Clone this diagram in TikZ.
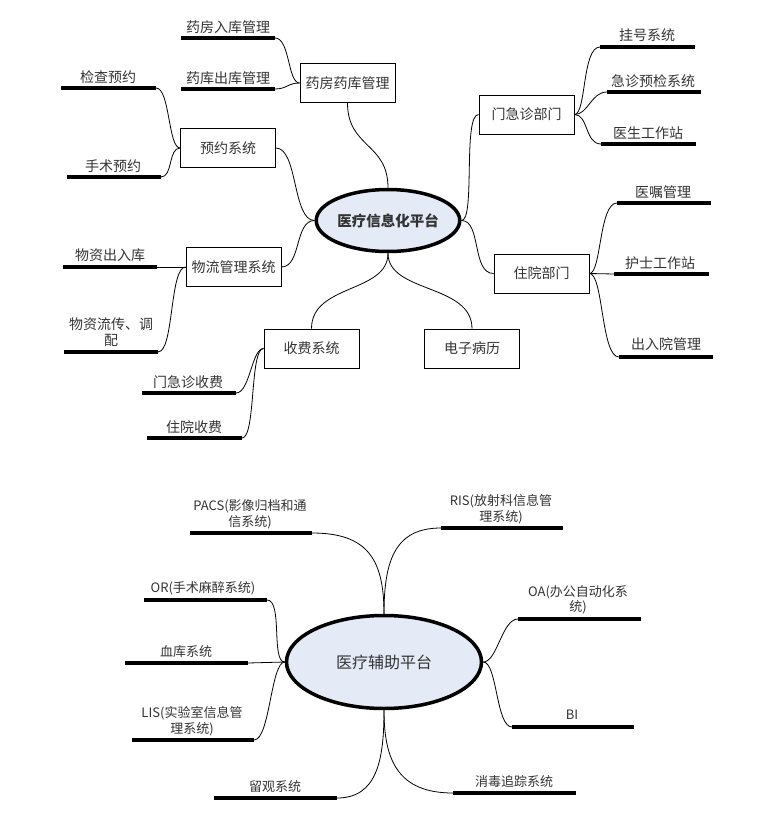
\documentclass[tikz,border=0pt]{standalone}
\usepackage{fontspec}
\setmainfont{Noto Sans CJK SC}
\usetikzlibrary{shapes.geometric}
\definecolor{txt}{HTML}{333333}
\definecolor{hubfill}{HTML}{E4EBF7}
\begin{document}
\begin{tikzpicture}[x=1pt,y=-1pt,
  box/.style={draw=black,line width=0.8pt,rectangle,minimum width=95pt,minimum height=39pt,inner sep=0pt,text=txt,font=\fontsize{14}{16}\selectfont},
  hub/.style={draw=black,line width=3.5pt,ellipse,fill=hubfill,inner sep=0pt,text=txt},
  leafline/.style={line width=4pt},
  leaftxt/.style={text=txt,font=\fontsize{14}{16}\selectfont,inner sep=0pt,align=center},
  leaftxtb/.style={text=txt,font=\fontsize{13}{15.5}\selectfont,inner sep=0pt,align=center},
  conn/.style={line width=0.8pt}]
\useasboundingbox (0,0) rectangle (783,832);

% ===== top hub =====
\node[hub,minimum width=133pt,minimum height=62pt,font=\bfseries\fontsize{14.5}{16}\selectfont] (E1) at (388,220.5) {医疗信息化平台};

\node[box] (yf) at (347.5,83) {药房药库管理};
\node[box] (yy) at (228,148) {预约系统};
\node[box] (wl) at (233.5,267) {物流管理系统};
\node[box] (sf) at (311.5,348.5) {收费系统};
\node[box] (dz) at (472,348.5) {电子病历};
\node[box] (zy) at (541.5,273.5) {住院部门};
\node[box] (mj) at (526.5,114.5) {门急诊部门};

% leaves (top)
\coordinate (a1l) at (181,38);  \coordinate (a1r) at (275,38);
\coordinate (a2l) at (181,89);  \coordinate (a2r) at (275,89);
\coordinate (b1l) at (61,88);   \coordinate (b1r) at (156,88);
\coordinate (b2l) at (67,177);  \coordinate (b2r) at (161,177);
\coordinate (c1l) at (63,267);  \coordinate (c1r) at (157,267);
\coordinate (c2l) at (64,352);  \coordinate (c2r) at (158,352);
\coordinate (d1l) at (142,393); \coordinate (d1r) at (236,393);
\coordinate (d2l) at (147,438); \coordinate (d2r) at (242,438);
\coordinate (e1l) at (600,47);  \coordinate (e1r) at (695,47);
\coordinate (e2l) at (607,92);  \coordinate (e2r) at (701,92);
\coordinate (e3l) at (601,144); \coordinate (e3r) at (696,144);
\coordinate (f1l) at (617,203); \coordinate (f1r) at (711,203);
\coordinate (f2l) at (614,274); \coordinate (f2r) at (709,274);
\coordinate (f3l) at (619,357); \coordinate (f3r) at (713,357);

\foreach \p in {a1,a2,b1,b2,c1,c2,d1,d2,e1,e2,e3,f1,f2,f3}
  \draw[leafline] (\p l) -- (\p r);

\node[leaftxt] (ta1) at (228,27) {药房入库管理};
\node[leaftxt] (ta2) at (228,78) {药库出库管理};
\node[leaftxt] (tb1) at (108,77) {检查预约};
\node[leaftxt] (tb2) at (113,166) {手术预约};
\node[leaftxt] (tc1) at (110,255) {物资出入库};
\node[leaftxt] (tc2) at (111,332) {物资流传、调\\配};
\node[leaftxt] (td1) at (188,382) {门急诊收费};
\node[leaftxt] (td2) at (194,427) {住院收费};
\node[leaftxt] (te1) at (647,35) {挂号系统};
\node[leaftxt] (te2) at (653,81) {急诊预检系统};
\node[leaftxt] (te3) at (648,133) {医生工作站};
\node[leaftxt] (tf1) at (663,192) {医嘱管理};
\node[leaftxt] (tf2) at (660,263) {护士工作站};
\node[leaftxt] (tf3) at (666,344) {出入院管理};

% connectors (top)
\draw[conn] (a1r) .. controls +(15,0) and +(-12,0) .. (yf.west);
\draw[conn] (a2r) .. controls +(12,0) and +(-12,0) .. (yf.west);
\draw[conn] (yf.south) .. controls +(0,45) and +(0,-45) .. (E1.north);
\draw[conn] (b1r) .. controls +(14,0) and +(-12,0) .. (yy.west);
\draw[conn] (b2r) .. controls +(12,0) and +(-12,0) .. (yy.west);
\draw[conn] (yy.east) .. controls +(22,0) and +(-22,0) .. (E1.west);
\draw[conn] (c1r) -- (wl.west);
\draw[conn] (c2r) .. controls +(16,0) and +(-16,0) .. (wl.west);
\draw[conn] (wl.east) .. controls +(20,0) and +(-20,0) .. (E1.west);
\draw[conn] (d1r) .. controls +(14,0) and +(-12,0) .. (sf.west);
\draw[conn] (d2r) .. controls +(14,0) and +(-14,0) .. (sf.west);
\draw[conn] (sf.north) .. controls +(0,-45) and +(0,40) .. (E1.south);
\draw[conn] (dz.north) .. controls +(0,-45) and +(0,40) .. (E1.south);
\draw[conn] (mj.west) .. controls +(-16,0) and +(14,0) .. (E1.east);
\draw[conn] (zy.west) .. controls +(-22,0) and +(20,0) .. (E1.east);
\draw[conn] (e1l) .. controls +(-18,0) and +(12,0) .. (mj.east);
\draw[conn] (e2l) .. controls +(-16,0) and +(14,0) .. (mj.east);
\draw[conn] (e3l) .. controls +(-16,0) and +(14,0) .. (mj.east);
\draw[conn] (f1l) .. controls +(-18,0) and +(12,0) .. (zy.east);
\draw[conn] (f2l) -- (zy.east);
\draw[conn] (f3l) .. controls +(-18,0) and +(14,0) .. (zy.east);

% ===== bottom hub =====
\node[hub,minimum width=195pt,minimum height=93pt,font=\fontsize{16}{18}\selectfont] (E2) at (384,662) {医疗辅助平台};

\coordinate (g1l) at (190,533); \coordinate (g1r) at (312,533);
\coordinate (g2l) at (144,600); \coordinate (g2r) at (267,600);
\coordinate (g3l) at (125,663); \coordinate (g3r) at (248,663);
\coordinate (g4l) at (132,740); \coordinate (g4r) at (254,740);
\coordinate (g5l) at (214,798); \coordinate (g5r) at (337,798);
\coordinate (h1l) at (441,528); \coordinate (h1r) at (563,528);
\coordinate (h2l) at (518,619); \coordinate (h2r) at (641,619);
\coordinate (h3l) at (512,727); \coordinate (h3r) at (634,727);
\coordinate (h4l) at (453,793); \coordinate (h4r) at (576,793);

\foreach \p in {g1,g2,g3,g4,g5,h1,h2,h3,h4}
  \draw[leafline] (\p l) -- (\p r);

\node[leaftxtb] (tg1) at (250,514.5) {PACS(影像归档和通\\信系统)};
\node[leaftxtb] (tg2) at (203,588) {OR(手术麻醉系统)};
\node[leaftxtb] (tg3) at (186,652) {血库系统};
\node[leaftxtb] (tg4) at (192,721) {LIS(实验室信息管\\理系统)};
\node[leaftxtb] (tg5) at (275,787) {留观系统};
\node[leaftxtb] (th1) at (501,509) {RIS(放射科信息管\\理系统)};
\node[leaftxtb] (th2) at (578,600) {OA(办公自动化系\\统)};
\node[leaftxtb] (th3) at (572,715) {BI};
\node[leaftxtb] (th4) at (514,782) {消毒追踪系统};

\draw[conn] (g1r) .. controls +(55,0) and +(0,-55) .. (E2.north);
\draw[conn] (h1l) .. controls +(-45,0) and +(0,-55) .. (E2.north);
\draw[conn] (g2r) .. controls +(16,0) and +(-14,0) .. (E2.west);
\draw[conn] (g3r) -- (E2.west);
\draw[conn] (g4r) .. controls +(16,0) and +(-14,0) .. (E2.west);
\draw[conn] (h2l) .. controls +(-16,0) and +(14,0) .. (E2.east);
\draw[conn] (h3l) .. controls +(-16,0) and +(14,0) .. (E2.east);
\draw[conn] (g5r) .. controls +(40,0) and +(0,50) .. (E2.south);
\draw[conn] (h4l) .. controls +(-55,0) and +(0,50) .. (E2.south);
\end{tikzpicture}
\end{document}
